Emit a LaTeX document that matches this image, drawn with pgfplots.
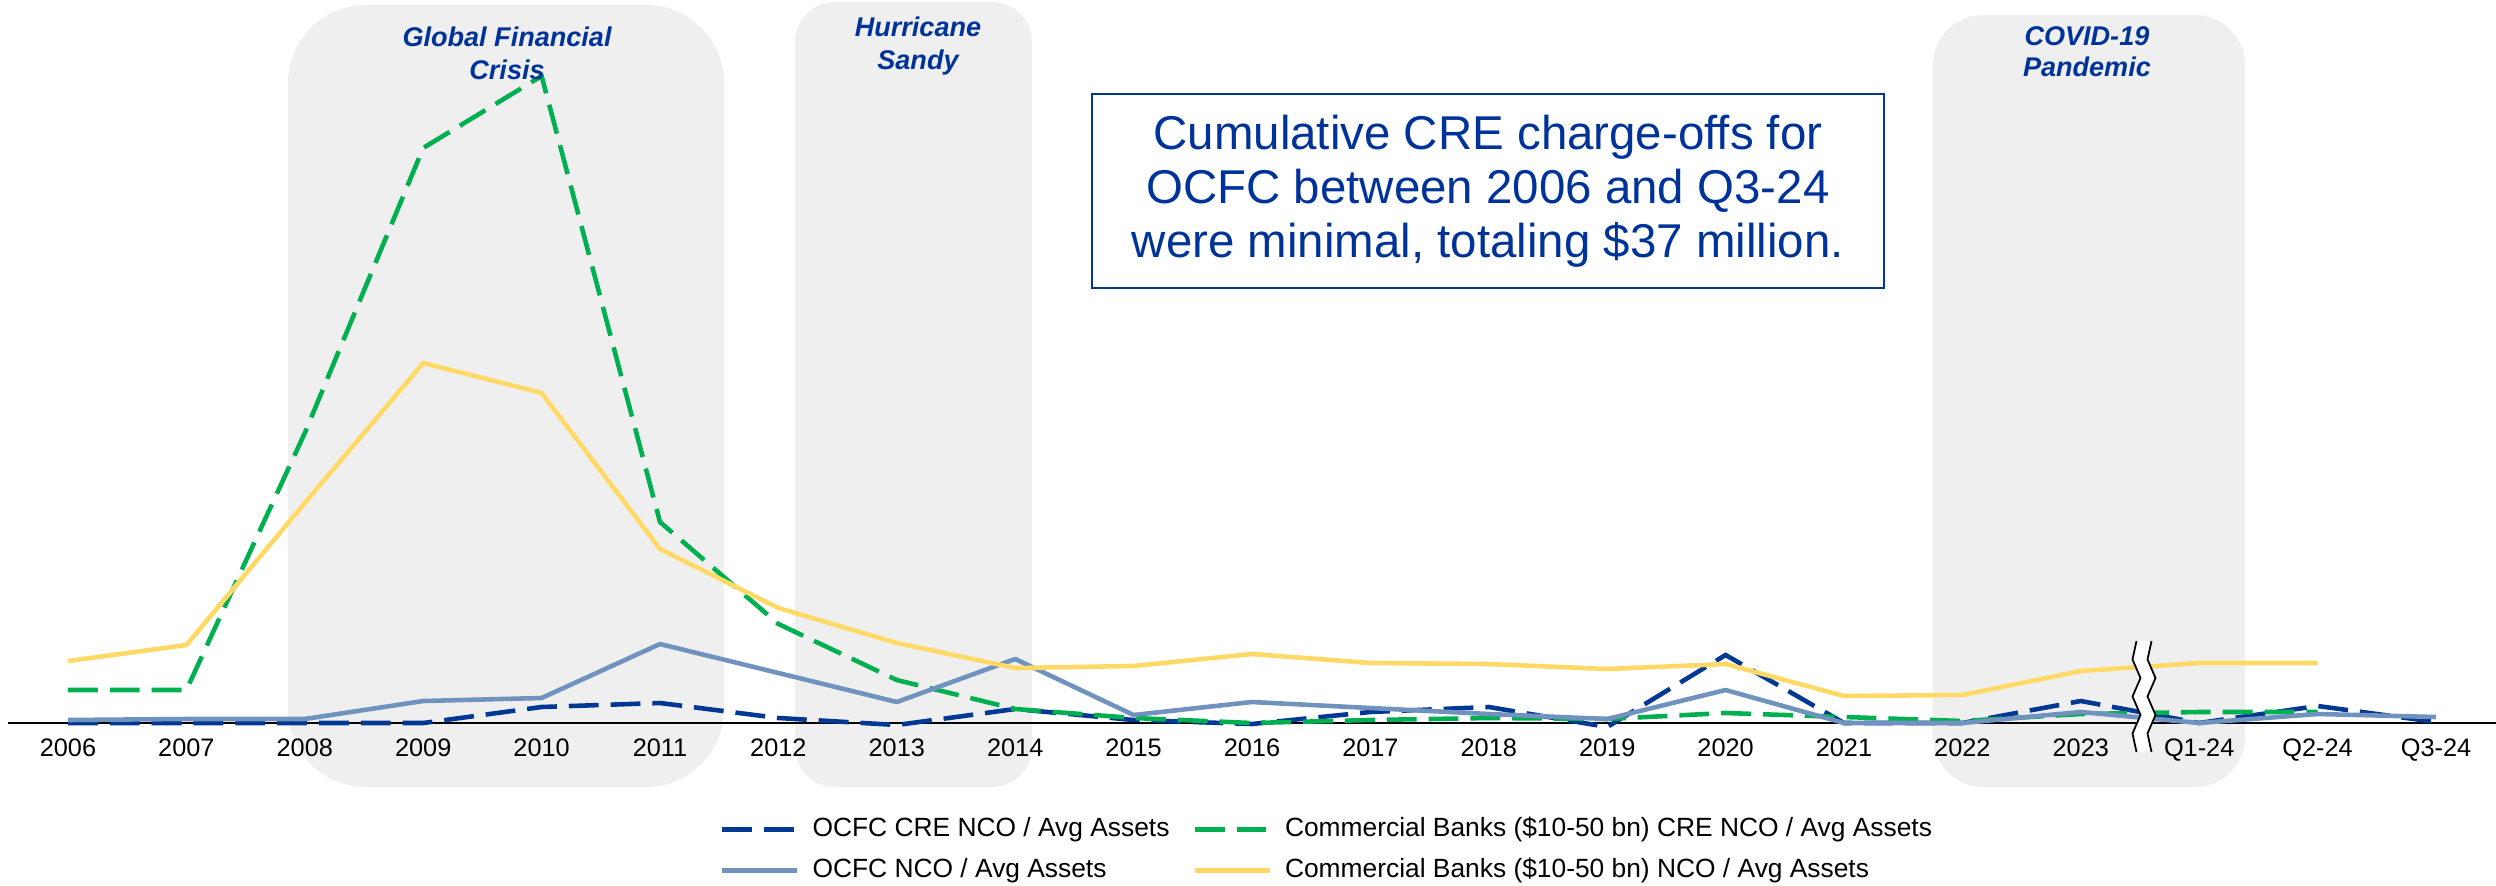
\documentclass[border=0pt]{standalone}
\usepackage{fontspec}
\setmainfont{Liberation Sans}
\usepackage{pgfplots}
\usepackage{pgfplotstable}
\pgfplotsset{compat=1.18}
\definecolor{dblue}{RGB}{0,56,147}
\definecolor{lblue}{RGB}{112,146,190}
\definecolor{cgreen}{RGB}{0,176,80}
\definecolor{cyellow}{RGB}{255,217,102}
\definecolor{tblue}{RGB}{0,51,153}
\definecolor{evgray}{RGB}{239,239,239}

\pgfplotstableread{
x cre nco ccre cnco
0 0 3 33 62
1 0 4 33 78
2 0 4 290 220
3 0 22 575 360
4 16 25 647 330
5 20 79 201 174
6 5 50 99 115
7 -2 21 43 80
8 14 64 14 55
9 3 8 5 57
10 -1 21 0 69
11 11 15 3 60
12 16 9 5 59
13 -4 4 4 54
14 68 33 10 59
15 0 0 6 27
16 0 0 2 28
17 22 11 9 52
18 0 0 11 60
19 17 9 11 60
20 1 6 nan nan
}\data

\begin{document}
\begin{tikzpicture}
\begin{axis}[
  at={(0,0)}, anchor=south west,
  scale only axis, width=24.96cm, height=8.85cm,
  xmin=-0.5743, xmax=20.507, ymin=-162, ymax=723,
  axis on top=true,
  axis y line=none,
  axis x line=middle,
  x axis line style={draw=none},
  hide obscured x ticks=false,
  xtick={0,...,20},
  xticklabels={2006,2007,2008,2009,2010,2011,2012,2013,2014,2015,2016,2017,2018,2019,2020,2021,2022,2023,Q1-24,Q2-24,Q3-24},
  major tick length=0pt,
  xticklabel style={font=\fontsize{7.2}{8.5}\selectfont, anchor=base, inner sep=0pt, yshift=-0.335cm},
  clip=false,
  legend columns=2,
  legend cell align=left,
  legend style={draw=none, fill=none, at={(axis cs:5.507,-94.5)}, anchor=north west,
    inner sep=0pt, outer sep=0pt, font=\fontsize{7.5}{9}\selectfont,
    nodes={inner sep=0pt, text height=0.19cm, text depth=0.05cm},
    row sep=0.17cm, column sep=0.13cm,
    /tikz/every even column/.append style={column sep=0.23cm}},
  legend image code/.code={\draw[#1] (0cm,0cm) -- (0.75cm,0cm);},
]
% shaded event periods
\fill[evgray, rounded corners=0.78cm] (axis cs:1.858,-64) rectangle (axis cs:5.541,718);
\fill[evgray, rounded corners=0.40cm] (axis cs:6.140,-64) rectangle (axis cs:8.142,721);
\fill[evgray, rounded corners=0.50cm] (axis cs:15.752,-64) rectangle (axis cs:18.387,708);
% x axis line
\draw[black, line width=0.7pt] (axis cs:-0.507,0) -- (axis cs:20.507,0);

\addplot[dblue, line width=1.3pt, dash pattern=on 8.5pt off 3.4pt] table[x=x,y=cre]{\data};
\addlegendentry{OCFC CRE NCO / Avg Assets}
\addplot[cgreen, line width=1.3pt, dash pattern=on 8.5pt off 3.4pt] table[x=x,y=ccre]{\data};
\addlegendentry{Commercial Banks (\$10-50 bn) CRE NCO / Avg Assets}
\addplot[lblue, line width=1.3pt, line join=round] table[x=x,y=nco]{\data};
\addlegendentry{OCFC NCO / Avg Assets}
\addplot[cyellow, line width=1.3pt, line join=round] table[x=x,y=cnco]{\data};
\addlegendentry{Commercial Banks (\$10-50 bn) NCO / Avg Assets}

% event labels
\node[align=center, text=tblue, font=\fontsize{7.7}{9.4}\selectfont\bfseries\itshape] at (axis cs:3.708,669.5) {Global Financial\\Crisis};
\node[align=center, text=tblue, font=\fontsize{7.7}{9.4}\selectfont\bfseries\itshape] at (axis cs:7.179,677) {Hurricane\\Sandy};
\node[align=center, text=tblue, font=\fontsize{7.7}{8.8}\selectfont\bfseries\itshape] at (axis cs:17.052,671.5) {COVID-19\\Pandemic};

% text box
\node[draw=dblue, line width=0.7pt, text=tblue, align=center, minimum width=7.92cm, minimum height=1.94cm, inner sep=0pt, font=\fontsize{13.5}{15.4}\selectfont] at (axis cs:11.993,532) {Cumulative CRE charge-offs for\\OCFC between 2006 and Q3-24\\were minimal, totaling \$37 million.};

% axis break
\fill[white] (axis cs:17.534,82) ++(-0.075cm,0cm) -- ++(-0.04cm,-0.185cm) -- ++(0.08cm,-0.185cm) -- ++(-0.08cm,-0.185cm) -- ++(0.08cm,-0.185cm) -- ++(-0.08cm,-0.185cm) -- ++(0.04cm,-0.185cm) -- ++(0.15cm,0cm) -- ++(-0.04cm,0.185cm) -- ++(0.08cm,0.185cm) -- ++(-0.08cm,0.185cm) -- ++(0.08cm,0.185cm) -- ++(-0.08cm,0.185cm) -- ++(0.04cm,0.185cm) -- cycle;
\draw[black, line width=0.5pt, line join=miter] (axis cs:17.534,82) ++(-0.075cm,0cm) -- ++(-0.04cm,-0.185cm) -- ++(0.08cm,-0.185cm) -- ++(-0.08cm,-0.185cm) -- ++(0.08cm,-0.185cm) -- ++(-0.08cm,-0.185cm) -- ++(0.04cm,-0.185cm);
\draw[black, line width=0.5pt, line join=miter] (axis cs:17.534,82) ++(0.075cm,0cm) -- ++(-0.04cm,-0.185cm) -- ++(0.08cm,-0.185cm) -- ++(-0.08cm,-0.185cm) -- ++(0.08cm,-0.185cm) -- ++(-0.08cm,-0.185cm) -- ++(0.04cm,-0.185cm);
\end{axis}
\pgfresetboundingbox
\path (0,0) rectangle (24.96cm,8.85cm);
\end{tikzpicture}
\end{document}
